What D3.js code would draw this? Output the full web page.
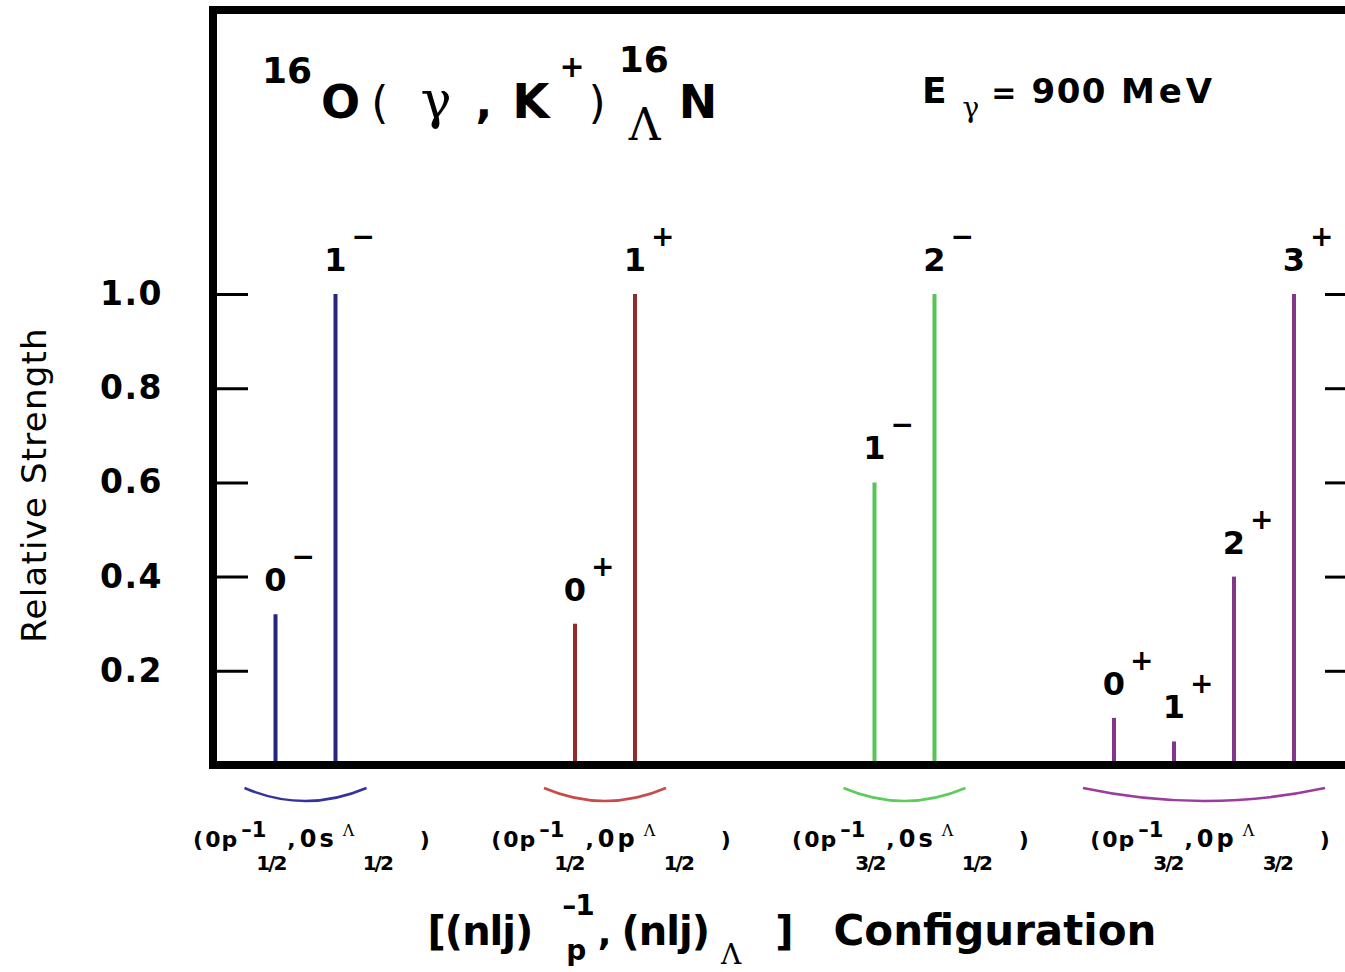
<!DOCTYPE html>
<html>
<head>
<meta charset="utf-8">
<script src="https://cdn.jsdelivr.net/npm/d3@7"></script>
<style>
  html, body { margin: 0; padding: 0; background: #ffffff; }
  svg { display: block; }
  text { white-space: pre; }
</style>
</head>
<body>
<svg id="chart" width="1345" height="972"></svg>
<script>
// ---- data -------------------------------------------------------------
// particle-hole configurations [(nlj)_p^-1, (nlj)_Lambda]
const configHoleJ      = ["1/2", "1/2", "3/2", "3/2"];
const configLambdaNl   = ["0s", "0p", "0s", "0p"];
const configLambdaJ    = ["1/2", "1/2", "1/2", "3/2"];
const configColors     = ["#26267c", "#922c2c", "#56c456", "#84378a"];
const configArcColors  = ["#33339a", "#c84a4a", "#5ccc5c", "#9c3c9c"];

// hypernuclear states J^pi and their relative strengths
const stateConfig   = [0, 0, 1, 1, 2, 2, 3, 3, 3, 3];
const stateSpin     = ["0", "1", "0", "1", "1", "2", "0", "1", "2", "3"];
const stateParity   = ["\u2212", "\u2212", "+", "+", "\u2212", "\u2212", "+", "+", "+", "+"];
const stateStrength = [0.32, 1.0, 0.30, 1.0, 0.60, 1.0, 0.10, 0.05, 0.40, 1.0];

const yTicks = [0.2, 0.4, 0.6, 0.8, 1.0];
const yTickLabels = ["0.2", "0.4", "0.6", "0.8", "1.0"];

// ---- layout -----------------------------------------------------------
const SANS = "'DejaVu Sans', 'Liberation Sans', sans-serif";
const SERIF = "'DejaVu Serif', 'Liberation Serif', serif";
const frame = { left: 213, top: 10, right: 1352, bottom: 765 };

const svg = d3.select("#chart");

const y = d3.scaleLinear().domain([0, 1]).range([frame.bottom, 294]);

// configuration centres, and the states of each configuration around it
const xConfig = d3.scalePoint()
  .domain(d3.range(configHoleJ.length))
  .range([305.5, 1204]);
const levelStep = 60;

const statesByConfig = d3.group(d3.range(stateStrength.length), i => stateConfig[i]);
function stateX(i) {
  const g = stateConfig[i];
  const members = statesByConfig.get(g);
  const k = members.indexOf(i);
  const inner = d3.scalePoint()
    .domain(d3.range(members.length))
    .range([-(members.length - 1) / 2 * levelStep, (members.length - 1) / 2 * levelStep]);
  return xConfig(g) + inner(k);
}

// ---- small rich-text helper (super/subscripts laid out in a row) -------
function addText(g, x, p) {
  return g.append("text")
    .attr("x", x)
    .attr("y", p.dy || 0)
    .attr("font-family", p.family || SANS)
    .attr("font-size", p.size)
    .attr("font-weight", p.weight || "bold")
    .attr("letter-spacing", p.ls || 0)
    .attr("fill", "#000")
    .text(p.t);
}
function flow(parent, x, y0, parts, anchor) {
  const grp = parent.append("g");
  let cx = 0;
  parts.forEach(p => {
    cx += p.dx || 0;
    if (p.stack) {
      let w = 0;
      p.stack.forEach(s => {
        const t = addText(grp, cx + (s.dx || 0), s);
        w = Math.max(w, t.node().getComputedTextLength() + (s.dx || 0));
      });
      cx += w;
    } else {
      const t = addText(grp, cx, p);
      cx += t.node().getComputedTextLength();
    }
  });
  const shift = anchor === "middle" ? -cx / 2 : 0;
  grp.attr("transform", `translate(${x + shift},${y0})`);
  return grp;
}

// ---- strength lines ------------------------------------------------------
svg.append("g").selectAll("line")
  .data(d3.range(stateStrength.length))
  .join("line")
  .attr("x1", i => stateX(i)).attr("x2", i => stateX(i))
  .attr("y1", y(0)).attr("y2", i => y(stateStrength[i]))
  .attr("stroke", i => configColors[stateConfig[i]])
  .attr("stroke-width", 4);

// J^pi labels
const lab = svg.append("g");
d3.range(stateStrength.length).forEach(i => {
  const sx = stateX(i), sy = y(stateStrength[i]) - 23;
  lab.append("text")
    .attr("x", sx).attr("y", sy)
    .attr("text-anchor", "middle")
    .attr("font-family", SANS).attr("font-weight", "bold").attr("font-size", 32)
    .text(stateSpin[i]);
  lab.append("text")
    .attr("x", sx + 16).attr("y", sy - 25)
    .attr("font-family", SANS).attr("font-weight", "bold").attr("font-size", 28)
    .text(stateParity[i]);
});

// ---- frame and axes -----------------------------------------------------
svg.append("rect")
  .attr("x", frame.left).attr("y", frame.top)
  .attr("width", frame.right - frame.left).attr("height", frame.bottom - frame.top)
  .attr("fill", "none").attr("stroke", "#000").attr("stroke-width", 8);

const yAxisLeft = d3.axisLeft(y)
  .tickValues(yTicks)
  .tickFormat((d, i) => yTickLabels[i])
  .tickSize(-35).tickPadding(50);
const gl = svg.append("g").attr("transform", `translate(${frame.left},0)`).call(yAxisLeft);
gl.select(".domain").remove();
gl.selectAll(".tick line").attr("stroke", "#000").attr("stroke-width", 3);
gl.selectAll(".tick text")
  .attr("font-family", SANS).attr("font-weight", "bold").attr("font-size", 33)
  .attr("letter-spacing", 1.5).attr("fill", "#000");

const yAxisRight = d3.axisRight(y).tickValues(yTicks).tickFormat("").tickSize(-27);
const gr = svg.append("g").attr("transform", `translate(${frame.right},0)`).call(yAxisRight);
gr.select(".domain").remove();
gr.selectAll(".tick line").attr("stroke", "#000").attr("stroke-width", 3);

// y-axis title
svg.append("text")
  .attr("transform", "translate(46,485) rotate(-90)")
  .attr("text-anchor", "middle")
  .attr("font-family", SANS).attr("font-size", 34)
  .attr("letter-spacing", 1.2)
  .attr("fill", "#000")
  .text("Relative Strength");

// ---- configuration brackets and labels ----------------------------------
const arcG = svg.append("g");
configHoleJ.forEach((_, g) => {
  const members = statesByConfig.get(g);
  const x0 = d3.min(members, stateX) - 31, x1 = d3.max(members, stateX) + 31;
  const p = d3.path();
  p.moveTo(x0, y(0) + 23);
  p.quadraticCurveTo((x0 + x1) / 2, y(0) + 49, x1, y(0) + 23);
  arcG.append("path").attr("d", p.toString())
    .attr("fill", "none").attr("stroke", configArcColors[g]).attr("stroke-width", 2.5);

  flow(svg, xConfig(g) + 6, y(0) + 82, [
    { t: "(", size: 22 },
    { t: "0p", size: 22, ls: 1, dx: 2 },
    { dx: 3, stack: [
      { t: "\u20131", size: 21, dy: -10 },
      { t: configHoleJ[g], size: 20, dy: 23, dx: 15, ls: -2 }
    ] },
    { t: ",", size: 22, dx: 2 },
    { t: configLambdaNl[g], size: 24, ls: 3, dx: 4 },
    { dx: 6, stack: [
      { t: "\u039B", size: 16, dy: -11, family: SERIF, weight: "normal" },
      { t: configLambdaJ[g], size: 20, dy: 23, dx: 20, ls: -2 }
    ] },
    { t: ")", size: 22, dx: 28 }
  ], "middle");
});

// ---- titles ---------------------------------------------------------------
flow(svg, 262, 118, [
  { t: "16", size: 36, dy: -35 },
  { t: "O", size: 46, dx: 9 },
  { t: "(", size: 44, weight: "normal", dx: 11 },
  { t: "\u03B3", size: 52, family: SERIF, weight: "normal", dx: 32 },
  { t: ",", size: 44, dx: 24 },
  { t: "K", size: 48, dx: 20 },
  { t: "+", size: 30, dy: -41, dx: 10 },
  { t: ")", size: 44, weight: "normal", dx: 4 },
  { dx: 13, stack: [
    { t: "16", size: 36, dy: -46 },
    { t: "\u039B", size: 44, dy: 22, dx: 10, family: SERIF, weight: "normal" }
  ] },
  { t: "N", size: 46, dx: 10 }
]);

flow(svg, 922, 103, [
  { t: "E", size: 36 },
  { t: "\u03B3", size: 28, family: SERIF, weight: "normal", dy: 14, dx: 16 },
  { t: "=", size: 30, dx: 12 },
  { t: "900", size: 34, ls: 1.5, dx: 15 },
  { t: "MeV", size: 34, ls: 4, dx: 14 }
]);

flow(svg, 792, 945, [
  { t: "[(nlj)", size: 40, ls: -1 },
  { dx: 30, stack: [
    { t: "\u20131", size: 28, dy: -30, ls: -1 },
    { t: "p", size: 28, dy: 15, dx: 4 }
  ] },
  { t: ",", size: 36, dx: 4 },
  { t: "(nlj)", size: 40, ls: -1, dx: 10 },
  { t: "\u039B", size: 28, family: SERIF, weight: "normal", dy: 19, dx: 12 },
  { t: "]", size: 40, dx: 34 },
  { t: "Configuration", size: 42, dx: 40 }
], "middle");
</script>
</body>
</html>
